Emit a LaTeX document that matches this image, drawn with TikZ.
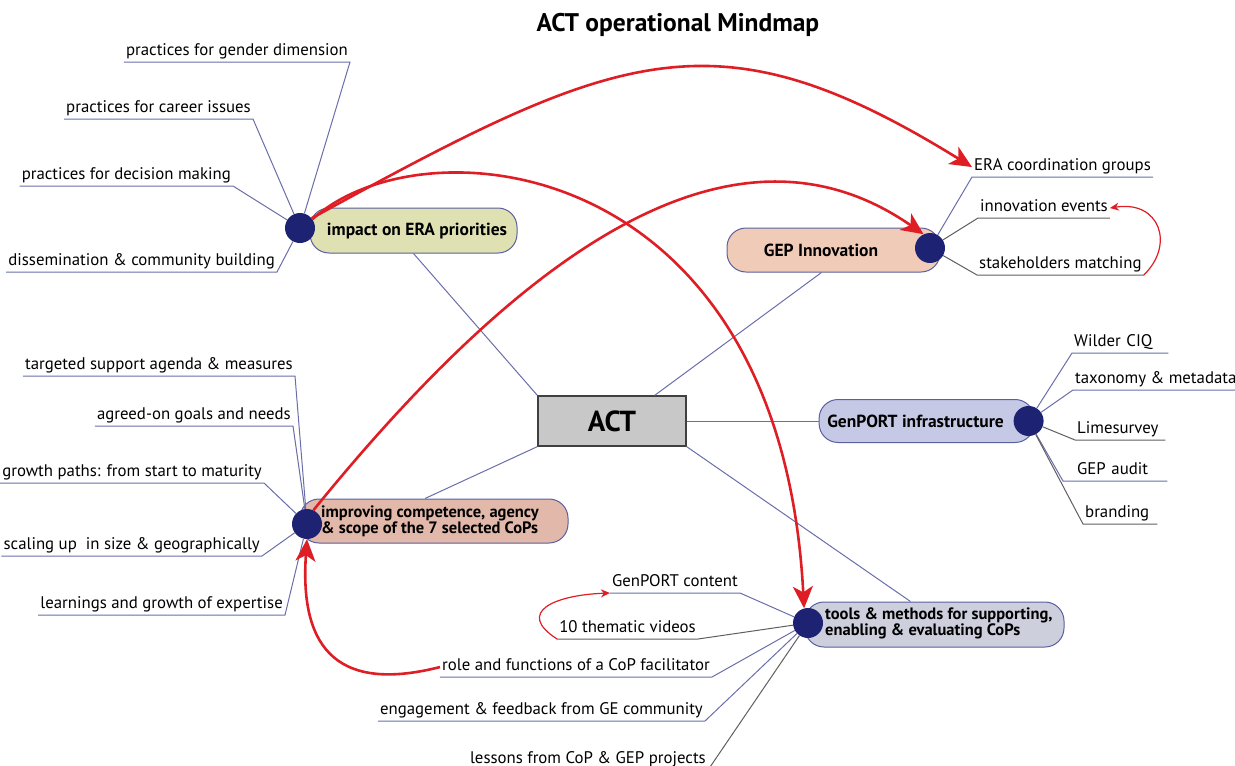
\documentclass[tikz,border=0pt]{standalone}
\usepackage{fontspec}
\setmainfont{PT Sans}
\usetikzlibrary{arrows.meta,positioning}

\definecolor{pillrim}{RGB}{90,95,160}
\definecolor{hubblue}{RGB}{30,34,115}
\definecolor{lnblue}{RGB}{105,110,170}
\definecolor{lngrey}{RGB}{95,95,95}
\definecolor{arrowred}{RGB}{222,30,36}
\definecolor{fillolive}{RGB}{223,225,178}
\definecolor{fillpeach}{RGB}{240,204,184}
\definecolor{filllav}{RGB}{198,201,229}
\definecolor{fillrose}{RGB}{225,184,170}
\definecolor{fillslate}{RGB}{205,207,220}
\definecolor{actgrey}{RGB}{200,200,200}

\tikzset{
  pill/.style={draw=pillrim, line width=1pt, rounded corners=19pt, minimum height=44pt, inner sep=0pt},
  pilltext/.style={font=\bfseries\fontsize{17.5}{15}\selectfont, align=left, inner sep=0pt},
  pilltwo/.style={pilltext, font=\bfseries\fontsize{16.5}{15}\selectfont},
  hub/.style={circle, fill=hubblue, minimum size=30pt, inner sep=0pt},
  leaf/.style={font=\fontsize{16.8}{19}\selectfont, inner xsep=2pt, inner ysep=1.5pt, text height=12pt, text depth=4.5pt},
  ln/.style={draw=lnblue, line width=1pt},
  lg/.style={draw=lngrey, line width=1pt},
  link/.style={draw=arrowred, line width=2.6pt, -{Stealth[length=22pt,width=20pt,inset=6pt]}},
  linklight/.style={draw=arrowred, line width=1.2pt, -{Stealth[length=9pt,width=8pt]}}
}

\begin{document}
\begin{tikzpicture}[x=1pt,y=-1pt]
  \useasboundingbox (0,0) rectangle (1235,766);

  % centre
  \node[font=\bfseries\fontsize{25.5}{30}\selectfont] (title) at (678,25) {ACT operational Mindmap};
  \node[draw=darkgray, fill=actgrey, line width=1.2pt, minimum width=148pt, minimum height=50pt,
        font=\bfseries\fontsize{29}{32}\selectfont] (act) at (612,421) {ACT};

  % branches
  \node[pill, fill=fillolive, minimum width=207pt, minimum height=45pt] (era) at (413.5,230.5) {};
  \node[pilltext] (eratxt) at (417,231) {impact on ERA priorities};
  \node[hub] (d1) at (300,228) {};

  \node[pill, fill=fillpeach, minimum width=213pt] (gep) at (833.5,250) {};
  \node[pilltext] (geptxt) at (821,250) {GEP Innovation};
  \node[hub] (d2) at (930,248) {};

  \node[pill, fill=filllav, minimum width=215pt, minimum height=43pt, right=132pt of act] (infra) {};
  \node[pilltext] (infratxt) at ([xshift=-11pt]infra.center) {GenPORT infrastructure};
  \node[hub] (d3) at ([xshift=-6pt]infra.east) {};

  \node[pill, fill=fillrose, minimum width=268pt] (cops) at (434,521) {};
  \node[pilltwo, anchor=west] (copstxt) at (321,521) {improving competence, agency\\\& scope of the 7 selected CoPs};
  \node[hub] (d4) at (307,524) {};

  \node[pill, fill=fillslate, minimum width=259pt, minimum height=45pt] (tools) at (934.5,624.5) {};
  \node[pilltwo, anchor=west] (toolstxt) at (825,623) {tools \& methods for supporting,\\enabling \& evaluating CoPs};
  \node[hub] (d5) at (808,623) {};

  \draw[ln] (act.north west) -- (era.south);
  \draw[ln] (act.31) -- ([xshift=-12pt]gep.south);
  \draw[ln] (act.east) -- (infra.west);
  \draw[ln] (act.south west) -- ([xshift=-9pt]cops.north);
  \draw[ln] (act.south east) -- ([xshift=-24pt]tools.north);

  % impact on ERA priorities
  \node[leaf, anchor=south east] (gender) at (350,62) {practices for gender dimension};
  \node[leaf, anchor=south east] (career) at (253,119) {practices for career issues};
  \node[leaf, anchor=south east] (decision) at (233,186) {practices for decision making};
  \node[leaf, anchor=south east] (dissem) at (277,272) {dissemination \& community building};
  \draw[ln] (gender.south west) -- (gender.south east) -- (d1);
  \draw[ln] (career.south west) -- (career.south east) -- (d1);
  \draw[ln] (decision.south west) -- (decision.south east) -- (d1);
  \draw[ln] (dissem.south west) -- (dissem.south east) -- (d1);

  % GEP Innovation
  \node[leaf, anchor=south west] (coord) at (972,177) {ERA coordination groups};
  \node[leaf, anchor=south west] (events) at (978,218) {innovation events};
  \node[leaf, anchor=south west] (stake) at (977,275) {stakeholders matching};
  \draw[ln] (d2) -- (coord.south west) -- (coord.south east);
  \draw[lg] (d2) -- (events.south west) -- (events.south east);
  \draw[lg] (d2) -- (stake.south west) -- (stake.south east);

  % GenPORT infrastructure
  \node[leaf, anchor=south west, text width=92pt, align=left] (wilder) at (1072,353) {Wilder CIQ};
  \node[leaf, anchor=south west] (taxo) at (1073,390) {taxonomy \& metadata};
  \node[leaf, anchor=south west, text width=86pt, align=left] (lime) at (1075,440) {Limesurvey};
  \node[leaf, anchor=south west, text width=100pt, align=left] (audit) at (1063,481) {\hspace*{12pt}GEP audit};
  \node[leaf, anchor=south west, text width=70pt, align=left] (brand) at (1083,524) {branding};
  \draw[ln] (d3) -- (wilder.south west) -- (wilder.south east);
  \draw[ln] (d3) -- (taxo.south west) -- (taxo.south east);
  \draw[lg] (d3) -- (lime.south west) -- (lime.south east);
  \draw[ln] (d3) -- (audit.south west) -- (audit.south east);
  \draw[lg] (d3) -- (brand.south west) -- (brand.south east);

  % improving competence
  \node[leaf, anchor=south east] (agenda) at (295,376) {targeted support agenda \& measures};
  \node[leaf, anchor=south east] (goals) at (293,426) {agreed-on goals and needs};
  \node[leaf, anchor=south east] (growth) at (264,483) {growth paths: from start to maturity};
  \node[leaf, anchor=south east] (scaling) at (262,556) {scaling up~ in size \& geographically};
  \node[leaf, anchor=south east] (learn) at (285,615) {learnings and growth of expertise};
  \draw[ln] (agenda.south west) -- (agenda.south east) -- (d4);
  \draw[ln] (goals.south west) -- (goals.south east) -- (d4);
  \draw[ln] (growth.south west) -- (growth.south east) -- (d4);
  \draw[ln] (scaling.south west) -- (scaling.south east) -- (d4);
  \draw[ln] (learn.south west) -- (learn.south east) -- (d4);

  % tools & methods
  \node[leaf, anchor=south east] (content) at (740,593) {GenPORT content};
  \node[leaf, anchor=south east] (videos) at (698,639) {10 thematic videos};
  \node[leaf, anchor=south east] (role) at (712,677) {role and functions of a CoP facilitator};
  \node[leaf, anchor=south east] (feedback) at (705,721) {engagement \& feedback from GE community};
  \node[leaf, anchor=south east] (lessons) at (708,770) {lessons from CoP \& GEP projects};
  \draw[ln] (content.south west) -- (content.south east) -- (d5);
  \draw[lg] (videos.south west) -- (videos.south east) -- (d5);
  \draw[ln] (role.south west) -- (role.south east) -- (d5);
  \draw[ln] (feedback.south west) -- (feedback.south east) -- (d5);
  \draw[lg] (lessons.south west) -- (lessons.south east) -- (d5);

  % links
  \draw[link] (d1.40) .. controls (618,50) and (715,8) .. (coord.west);
  \draw[link] (d1.35) .. controls (420,120) and (780,150) .. (d5.105);
  \draw[link] (d4.65) .. controls (505,274) and (723,95) .. (d2.115);
  \draw[link] (role.west) .. controls (330,695) and (300,640) .. (d4.south);
  \draw[linklight] (videos.south west) .. controls (515,612) and (555,595) .. (content.south west);
  \draw[linklight] (stake.south east) .. controls (1175,245) and (1160,200) .. (events.east);
\end{tikzpicture}
\end{document}
